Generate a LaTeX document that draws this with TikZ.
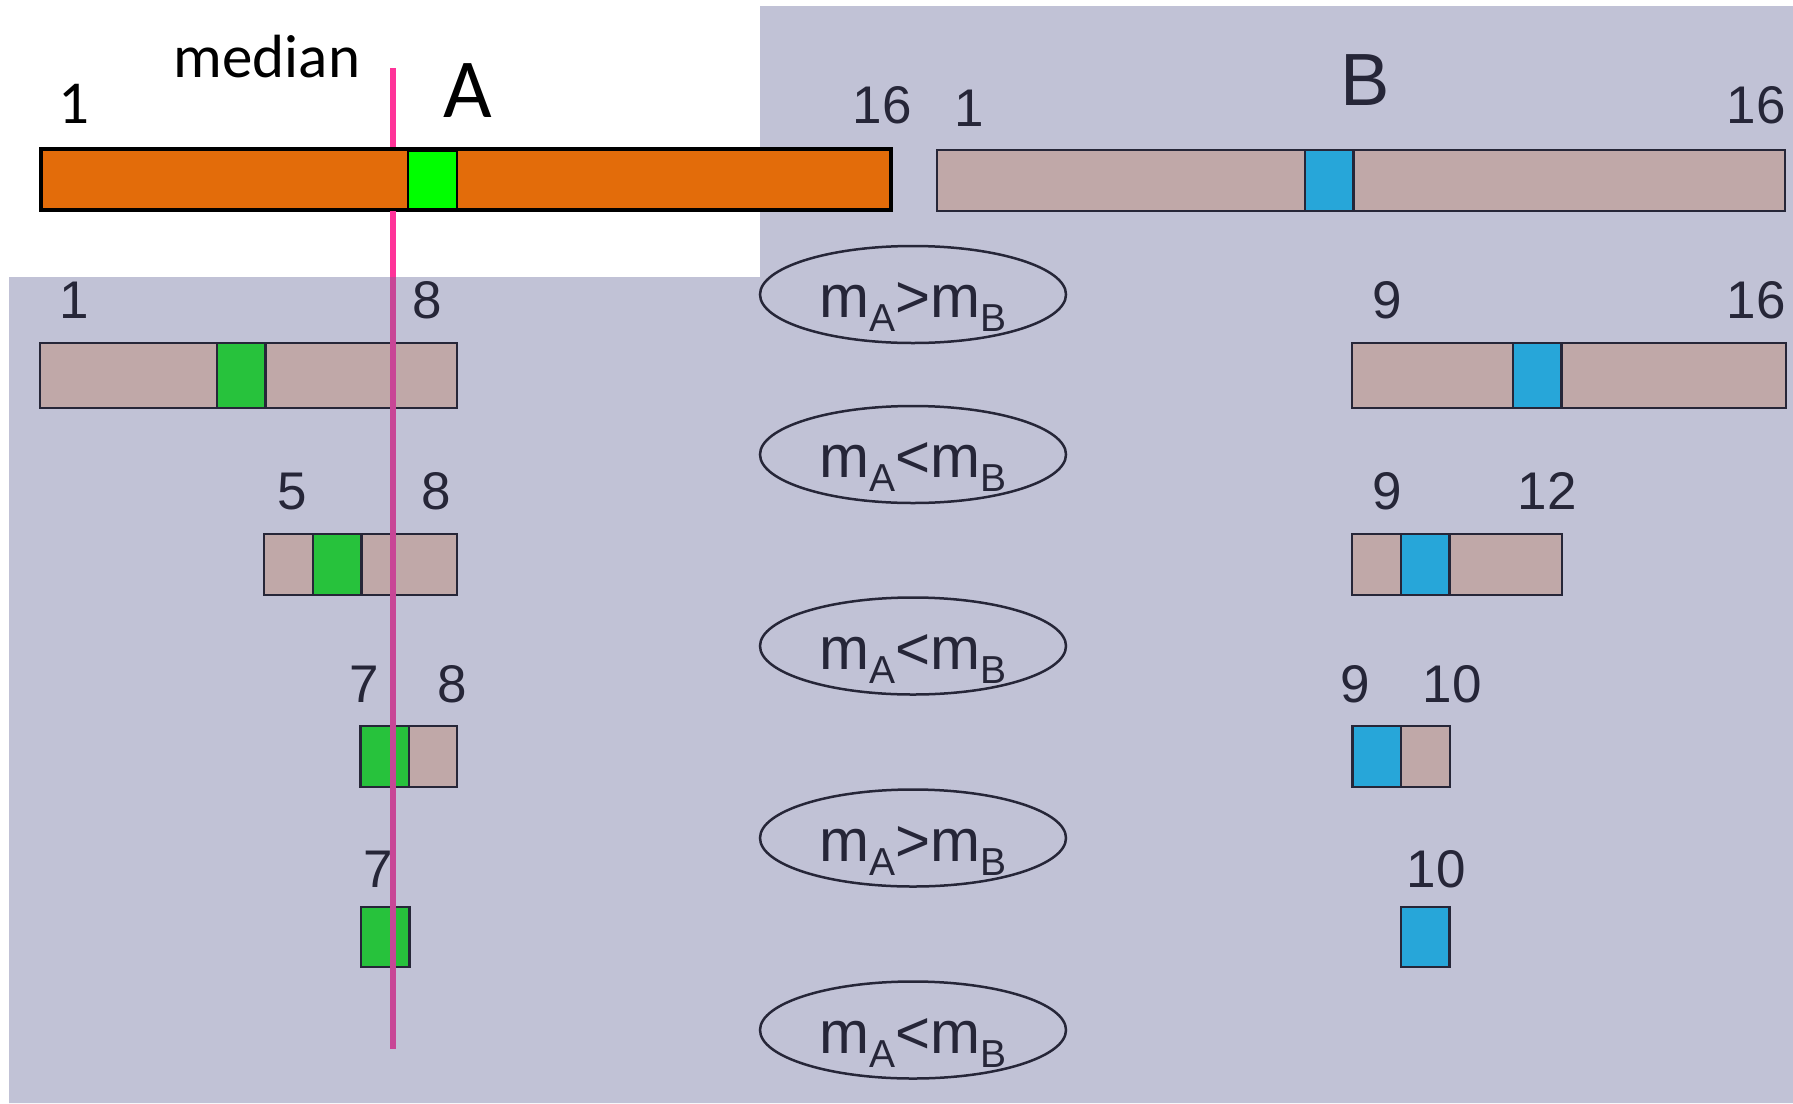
\documentclass[tikz,border=0pt]{standalone}
\usepackage{fontspec}
\setmainfont{Liberation Sans}
\newfontfamily\calib{Carlito}
\usetikzlibrary{shapes.geometric}
\definecolor{bgray}{RGB}{193,194,214}
\definecolor{navy}{RGB}{38,38,56}
\definecolor{brownfill}{RGB}{192,168,168}
\definecolor{orangefill}{RGB}{227,108,10}
\definecolor{limefill}{RGB}{0,255,0}
\definecolor{greenfill}{RGB}{39,194,60}
\definecolor{bluefill}{RGB}{39,166,217}
\definecolor{pinktop}{RGB}{255,51,153}
\definecolor{pinklow}{RGB}{200,70,150}
\newcommand\mcmp[1]{m\raisebox{-14bp}{\fontsize{39bp}{42bp}\selectfont A}#1m\raisebox{-14bp}{\fontsize{39bp}{42bp}\selectfont B}}
\tikzset{
  barbox/.style={draw=navy, line width=2.5bp, fill=brownfill, inner sep=0pt, outer sep=0pt, minimum height=61bp},
  gcell/.style={barbox, fill=greenfill, minimum width=48.5bp},
  bcell/.style={barbox, fill=bluefill, minimum width=48.5bp},
  numlab/.style={anchor=base, inner sep=0pt, text=navy, font=\fontsize{53bp}{60bp}\selectfont},
  callab/.style={anchor=base, inner sep=0pt, text=black, font=\calib\fontsize{61bp}{70bp}\selectfont},
  cmp/.style={ellipse, draw=navy, line width=2.5bp, minimum width=306bp, minimum height=97bp, inner sep=0pt, text height=46bp, text depth=0bp, text=navy, font=\fontsize{60bp}{70bp}\selectfont},
  medline/.style={line width=5.5bp}
}
\begin{document}
\begin{tikzpicture}[x=1bp,y=-1bp]
\useasboundingbox (0,0) rectangle (1793,1103);
% background
\fill[bgray] (9,277) -- (760,277) -- (760,6) -- (1793,6) -- (1793,1103) -- (9,1103) -- cycle;
% median line (upper part, behind bar A)
\coordinate (mtop) at (393,68);
\coordinate (mmid) at (393,277);
\coordinate (mbot) at (393,1049);
\draw[medline, pinktop] (mtop) -- (mmid);
% top bars
\node[barbox, draw=black, line width=3.5bp, fill=orangefill, minimum width=850bp] (barA) at (466,179.5) {};
\node[barbox, draw=black, line width=2bp, fill=limefill, minimum width=48.5bp, minimum height=58bp] (cellA) at (432.5,179.5) {};
\node[barbox, minimum width=848bp] (barB) at (1361,180.5) {};
\node[bcell] (cellB) at (1329,180.5) {};
% top labels
\node[callab] (lmed) at (267,77) {median};
\node[callab] (lA1) at (74,123) {1};
\node[callab, font=\calib\fontsize{84bp}{90bp}\selectfont] (lA) at (468,117) {A};
\node[numlab] (lA16) at (882,123) {16};
\node[numlab] (lB1) at (969,126) {1};
\node[numlab, font=\fontsize{74bp}{80bp}\selectfont] (lB) at (1365,105) {B};
\node[numlab] (lB16) at (1756,123) {16};
% row 2
\node[barbox, minimum width=417bp, minimum height=65bp] (a2) at (248.5,375.5) {};
\node[gcell, minimum height=65bp] (ga2) at (241,375.5) {};
\node[barbox, minimum width=434bp, minimum height=65bp] (b2) at (1569,375.5) {};
\node[bcell, minimum height=65bp] (bb2) at (1537,375.5) {};
\node[numlab] (l21) at (74,318) {1};
\node[numlab] (l28) at (427,318) {8};
\node[numlab] (l29) at (1387,318) {9};
\node[numlab] (l216) at (1756,318) {16};
% row 3
\node[barbox, minimum width=193bp] (a3) at (360.5,564.5) {};
\node[gcell] (ga3) at (337,564.5) {};
\node[barbox, minimum width=210bp] (b3) at (1457,564.5) {};
\node[bcell] (bb3) at (1425,564.5) {};
\node[numlab] (l35) at (292,509) {5};
\node[numlab] (l38) at (436,509) {8};
\node[numlab] (l39) at (1387,509) {9};
\node[numlab] (l312) at (1547,509) {12};
% row 4
\node[barbox, minimum width=97bp] (a4) at (408.5,756.5) {};
\node[gcell] (ga4) at (384.5,756.5) {};
\node[barbox, minimum width=98bp] (b4) at (1401,756.5) {};
\node[bcell] (bb4) at (1376.5,756.5) {};
\node[numlab] (l47) at (364,702) {7};
\node[numlab] (l48) at (452,702) {8};
\node[numlab] (l49) at (1355,702) {9};
\node[numlab] (l410) at (1452,702) {10};
% row 5
\node[gcell, minimum height=60bp] (ga5) at (385,937) {};
\node[bcell, minimum height=60bp] (bb5) at (1425,937) {};
\node[numlab] (l57) at (378,887) {7};
\node[numlab] (l510) at (1436,887) {10};
% comparisons
\node[cmp] (c1) at (913,294.5) {\mcmp{>}};
\node[cmp] (c2) at (913,454.5) {\mcmp{<}};
\node[cmp] (c3) at (913,646) {\mcmp{<}};
\node[cmp] (c4) at (913,838) {\mcmp{>}};
\node[cmp] (c5) at (913,1030) {\mcmp{<}};
% median line (short piece below bar A, then lower part on top of bars)
\coordinate (mbar) at (393,211);
\draw[medline, pinktop] (mbar) -- (mmid);
\draw[medline, pinklow] (mmid) -- (mbot);
\end{tikzpicture}
\end{document}
